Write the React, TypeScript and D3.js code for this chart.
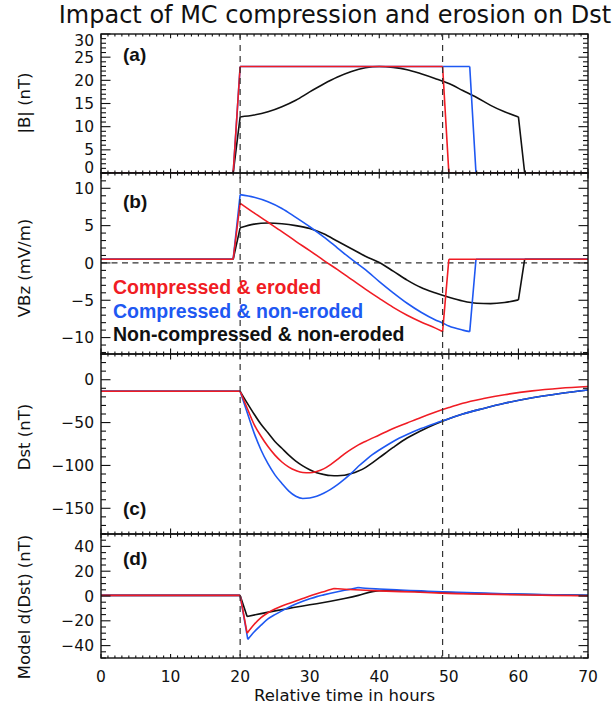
import React from 'react';
import * as d3 from 'd3';

// ---------- data ----------
const X_DOMAIN: [number, number] = [0, 70];
const X_MAJOR = [0, 10, 20, 30, 40, 50, 60, 70];
const EVENT_TIMES = [20, 49.1];

// (a) |B|
const tA_red = [0, 19, 20, 49.1, 50, 70];
const vA_red = [0, 0, 23, 23, 0, 0];
const kA_red = [19, 20, 49.1, 50];
const tA_blue = [0, 19, 20, 53, 53.9, 70];
const vA_blue = [0, 0, 23, 23, 0, 0];
const kA_blue = [19, 20, 53, 53.9];
const tA_black = [0, 19, 20, 22, 24, 26, 28, 30, 32, 34, 36, 38, 40, 42, 44, 46, 48, 50, 52, 54, 56, 58, 60, 60.9, 70];
const vA_black = [0, 0, 12.1, 12.5, 13.2, 14.3, 15.7, 17.5, 19.2, 20.7, 21.9, 22.7, 23, 22.8, 22.3, 21.4, 20.4, 19.3, 17.8, 16.3, 14.6, 13.2, 12.1, 0, 0];
const kA_black = [19, 20, 60, 60.9];

// (b) VBz
const tB_red = [0, 19, 20, 22, 24, 26, 28, 30, 32, 34, 36, 38, 40, 42, 44, 46, 48, 49.1, 50, 70];
const vB_red = [0.5, 0.5, 8.0, 6.7, 5.45, 4.2, 2.9, 1.65, 0.35, -0.9, -2.2, -3.5, -4.75, -5.95, -7.0, -7.9, -8.7, -9.2, 0.5, 0.5];
const kB_red = [19, 20, 49.1, 50];
const tB_blue = [0, 19, 20, 22, 24, 26, 28, 30, 32, 34, 36, 38, 40, 42, 44, 46, 48, 49, 50, 52, 53, 53.9, 70];
const vB_blue = [0.5, 0.5, 9.15, 8.8, 8.2, 7.3, 6.1, 4.85, 3.5, 2.0, 0.5, -0.9, -2.5, -4.0, -5.4, -6.6, -7.6, -8.0, -8.45, -9.0, -9.2, 0.5, 0.5];
const kB_blue = [19, 20, 53, 53.9];
const tB_black = [0, 19, 20, 22, 24, 26, 28, 30, 32, 34, 36, 38, 40, 42, 44, 46, 48, 50, 52, 54, 56, 58, 60, 60.9, 70];
const vB_black = [0.5, 0.5, 4.7, 5.2, 5.35, 5.25, 5.0, 4.6, 3.9, 2.9, 1.9, 0.9, 0.05, -1.1, -2.3, -3.3, -4.0, -4.6, -5.1, -5.4, -5.45, -5.3, -4.95, 0.5, 0.5];
const kB_black = [19, 20, 60, 60.9];

// (c) Dst
const tC_red = [0, 20, 21, 22, 23, 24, 25, 26, 27, 28, 29, 30, 31, 32, 33, 34, 35, 36, 37, 38, 40, 42, 44, 46, 48, 50, 52, 55, 58, 62, 66, 70];
const vC_red = [-13.5, -13.5, -33, -52, -66, -78, -88, -96, -102, -106, -108.3, -108.5, -107, -104, -99, -93, -86.5, -81, -76, -72, -64.5, -57, -50.5, -44, -38, -32.5, -27.5, -22, -17.5, -13, -10, -8];
const kC_red = [20];
const tC_blue = [0, 20, 21, 22, 23, 24, 25, 26, 27, 28, 29, 30, 31, 32, 33, 34, 35, 36, 37, 38, 39, 40, 42, 44, 46, 48, 50, 52, 55, 58, 62, 66, 70];
const vC_blue = [-13.5, -13.5, -38, -62, -82, -98, -111, -121, -130, -136, -138.5, -138, -136, -132.5, -128, -122.5, -116, -109, -101, -94, -87.5, -82, -72, -64, -57, -51, -45.5, -40, -33.5, -27.5, -21, -16, -12];
const kC_blue = [20];
const tC_black = [0, 20, 21, 22, 23, 24, 25, 26, 27, 28, 29, 30, 31, 32, 33, 34, 35, 36, 37, 38, 39, 40, 42, 44, 46, 48, 50, 52, 55, 58, 62, 66, 70];
const vC_black = [-13.5, -13.5, -27, -40, -52, -62, -72, -80, -88, -95, -100.5, -105, -108.5, -110.5, -111.8, -112, -111.5, -109.5, -106.5, -102.5, -97, -91, -79, -68, -59.5, -52, -45.5, -40, -33.5, -27.5, -21, -16, -12];
const kC_black = [20];

// (d) Model d(Dst)
const tD_red = [0, 20, 21, 22, 23, 24, 25, 26, 27, 28, 29, 30, 31, 32, 33, 33.5, 35, 38, 41, 45, 49, 55, 60, 65, 70];
const vD_red = [0.5, 0.5, -30, -23, -17.5, -13.5, -10.5, -8, -6, -4, -2, 0, 1.8, 3.5, 5.2, 6, 5.5, 4.6, 3.9, 3.2, 2.3, 1.5, 1, 0.5, 0.2];
const kD_red = [20, 21, 33.5];
const tD_blue = [0, 20, 21.1, 22, 23, 24, 25, 26, 27, 28, 29, 30, 31, 32, 33, 34, 35, 36, 37, 38, 40, 43, 46, 49, 55, 60, 65, 70];
const vD_blue = [0.5, 0.5, -35, -29, -23.5, -18.5, -15, -12, -9, -6.5, -4.3, -2.3, -0.5, 0.9, 2.2, 3.4, 4.6, 5.7, 6.9, 6.3, 5.6, 4.8, 4.1, 3.4, 2.3, 1.6, 1, 0.5];
const kD_blue = [20, 21.1, 37];
const tD_black = [0, 20, 21, 23, 25, 27, 29, 31, 33, 35, 37, 39, 40, 43, 46, 49, 52, 56, 60, 65, 70];
const vD_black = [0.5, 0.5, -16.5, -14.2, -12, -10, -8, -6.2, -4.2, -2, 0.5, 3.5, 4.3, 4.2, 3.6, 2.9, 2.3, 1.7, 1.3, 0.9, 0.5];
const kD_black = [20, 21, 40];

const LEGEND_LABELS = ['Compressed & eroded', 'Compressed & non-eroded', 'Non-compressed & non-eroded'];
const TITLE = 'Impact of MC compression and erosion on Dst';
const X_TITLE = 'Relative time in hours';

// ---------- styling ----------
const RED = '#f01c24';
const BLUE = '#1e58f2';
const BLACK = '#111111';
const L = 101, R = 588;
const FONT = '"DejaVu Sans", sans-serif';
const BOLD = '"Liberation Sans", Arial, sans-serif';

type Series = { t: number[]; v: number[]; k: number[]; color: string };
type Panel = {
  key: string; top: number; bottom: number; domain: [number, number];
  major: number[]; minorStep: number; label: string; ytitle: string; titleY: number;
  labelY: number; series: Series[]; zeroDash?: boolean;
};

const panels: Panel[] = [
  { key: 'a', top: 34, bottom: 173, domain: [0, 30], major: [0, 5, 10, 15, 20, 25, 30], minorStep: 1, label: '(a)', ytitle: '|B|  (nT)', titleY: 103, labelY: 61,
    series: [{ t: tA_black, v: vA_black, k: kA_black, color: BLACK }, { t: tA_blue, v: vA_blue, k: kA_blue, color: BLUE }, { t: tA_red, v: vA_red, k: kA_red, color: RED }] },
  { key: 'b', top: 173, bottom: 354, domain: [-12.2, 12.05], major: [-10, -5, 0, 5, 10], minorStep: 1, label: '(b)', ytitle: 'VBz  (mV/m)', titleY: 268, labelY: 208, zeroDash: true,
    series: [{ t: tB_black, v: vB_black, k: kB_black, color: BLACK }, { t: tB_blue, v: vB_blue, k: kB_blue, color: BLUE }, { t: tB_red, v: vB_red, k: kB_red, color: RED }] },
  { key: 'c', top: 354, bottom: 534, domain: [-180, 30], major: [-150, -100, -50, 0], minorStep: 10, label: '(c)', ytitle: 'Dst  (nT)', titleY: 437, labelY: 515,
    series: [{ t: tC_black, v: vC_black, k: kC_black, color: BLACK }, { t: tC_blue, v: vC_blue, k: kC_blue, color: BLUE }, { t: tC_red, v: vC_red, k: kC_red, color: RED }] },
  { key: 'd', top: 534, bottom: 658, domain: [-50, 50], major: [-40, -20, 0, 20, 40], minorStep: 5, label: '(d)', ytitle: 'Model  d(Dst)  (nT)', titleY: 607, labelY: 565,
    series: [{ t: tD_black, v: vD_black, k: kD_black, color: BLACK }, { t: tD_blue, v: vD_blue, k: kD_blue, color: BLUE }, { t: tD_red, v: vD_red, k: kD_red, color: RED }] },
];

const fmt = (v: number) => (v < 0 ? '\u2212' + Math.abs(v) : String(v));

// split a series into pieces at its corner times, so each piece is drawn smooth
function pieces(s: Series): [number, number][][] {
  const pts = d3.zip(s.t, s.v) as [number, number][];
  const out: [number, number][][] = [];
  let cur: [number, number][] = [];
  pts.forEach((p) => {
    cur.push(p);
    if (s.k.includes(p[0])) {
      if (cur.length > 1) out.push(cur);
      cur = [p];
    }
  });
  if (cur.length > 1) out.push(cur);
  return out;
}

export default function App() {
  const x = d3.scaleLinear().domain(X_DOMAIN).range([L, R]);
  const xMinor = d3.range(X_DOMAIN[0], X_DOMAIN[1] + 0.001, 1);
  const top = panels[0].top;
  const bottom = panels[panels.length - 1].bottom;

  return (
    <svg width={615} height={710} style={{ position: 'absolute', left: 0, top: 0, background: '#fff' }}>
      <rect width={615} height={710} fill="#fff" />
      <text x={335} y={23} textAnchor="middle" fontFamily={FONT} fontSize={24} fill="#111">{TITLE}</text>

      {panels.map((p) => {
        const y = d3.scaleLinear().domain(p.domain).range([p.bottom, p.top]);
        const yMinor = d3.range(Math.ceil(p.domain[0] / p.minorStep) * p.minorStep, p.domain[1] + 0.001, p.minorStep);
        const line = d3.line<[number, number]>().x((d) => x(d[0])).y((d) => y(d[1])).curve(d3.curveMonotoneX);
        const xtl = 0.03 * (p.bottom - p.top);
        return (
          <g key={p.key}>
            <defs>
              <clipPath id={'clip' + p.key}>
                <rect x={L} y={p.top} width={R - L} height={p.bottom - p.top} />
              </clipPath>
            </defs>
            {p.zeroDash && (
              <line x1={L} x2={R} y1={y(0)} y2={y(0)} stroke="#333" strokeWidth={1.2} strokeDasharray="6,4.5" />
            )}
            <g clipPath={`url(#clip${p.key})`}>
              {p.series.map((s, i) => (
                <path key={i} d={pieces(s).map((pc) => line(pc) || '').join('')} fill="none" stroke={s.color} strokeWidth={1.6} strokeLinejoin="round" />
              ))}
            </g>
            <rect x={L} y={p.top} width={R - L} height={p.bottom - p.top} fill="none" stroke="#111" strokeWidth={1.4} />
            {yMinor.map((v) => {
              const isMajor = p.major.some((m) => Math.abs(m - v) < 1e-6);
              const len = isMajor ? 9.5 : 5;
              return (
                <g key={'y' + v}>
                  <line x1={L} x2={L + len} y1={y(v)} y2={y(v)} stroke="#111" strokeWidth={1.1} />
                  <line x1={R} x2={R - len} y1={y(v)} y2={y(v)} stroke="#111" strokeWidth={1.1} />
                </g>
              );
            })}
            {xMinor.map((v) => {
              const isMajor = X_MAJOR.includes(v);
              const len = isMajor ? Math.max(4, xtl) : 2.5;
              return (
                <g key={'x' + v}>
                  <line x1={x(v)} x2={x(v)} y1={p.bottom} y2={p.bottom - len} stroke="#111" strokeWidth={1.1} />
                  <line x1={x(v)} x2={x(v)} y1={p.top} y2={p.top + len} stroke="#111" strokeWidth={1.1} />
                </g>
              );
            })}
            {p.major.map((v) => {
              const yy = Math.min(Math.max(y(v), p.top + 6), p.bottom - 6);
              return (
                <text key={'l' + v} x={94} y={yy} dy="0.36em" textAnchor="end" fontFamily={FONT} fontSize={15.5} fill="#111">{fmt(v)}</text>
              );
            })}
            <text transform={`translate(30,${p.titleY}) rotate(-90)`} textAnchor="middle" fontFamily={FONT} fontSize={16.5} fill="#111">{p.ytitle}</text>
            <text x={123} y={p.labelY} fontFamily={BOLD} fontWeight="bold" fontSize={19} fill="#111">{p.label}</text>
          </g>
        );
      })}

      {EVENT_TIMES.map((t) => (
        <line key={t} x1={x(t)} x2={x(t)} y1={top} y2={bottom} stroke="#333" strokeWidth={1.2} strokeDasharray="6,5" />
      ))}

      {LEGEND_LABELS.map((lab, i) => (
        <text key={lab} x={113} y={294 + i * 23.5} fontFamily={BOLD} fontWeight="bold" fontSize={19.5} fill={[RED, BLUE, BLACK][i]}>{lab}</text>
      ))}

      {X_MAJOR.map((v) => (
        <text key={'xl' + v} x={x(v)} y={682} textAnchor="middle" fontFamily={FONT} fontSize={15.5} fill="#111">{v}</text>
      ))}
      <text x={(L + R) / 2} y={701} textAnchor="middle" fontFamily={FONT} fontSize={16.5} fill="#111">{X_TITLE}</text>
    </svg>
  );
}
